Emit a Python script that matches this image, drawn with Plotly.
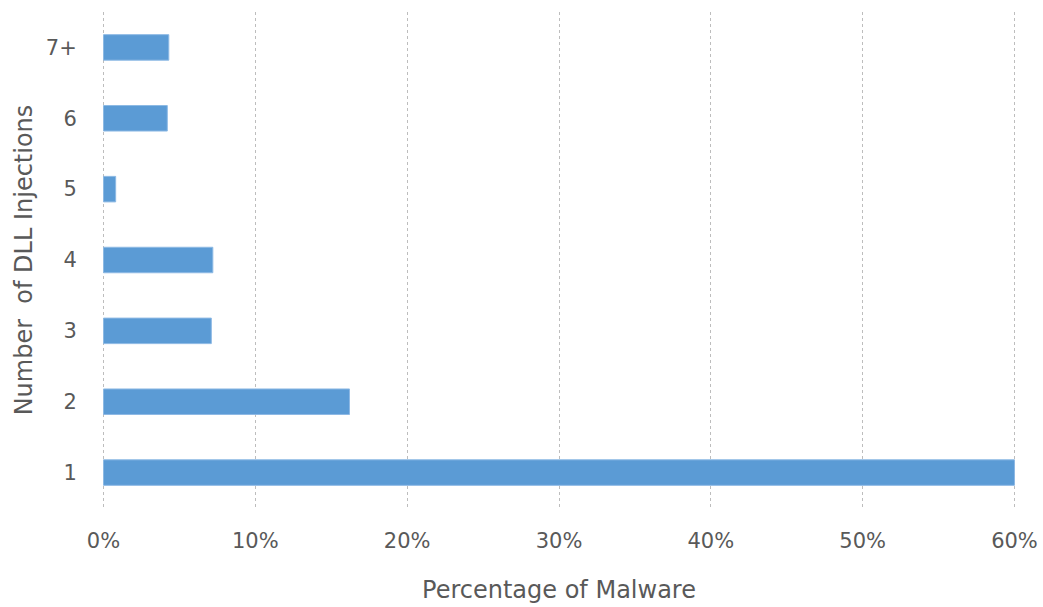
import plotly.graph_objects as go

# Share of malware samples by number of DLL injections
injections = ["1", "2", "3", "4", "5", "6", "7+"]
pct_malware = [60.0, 16.2, 7.1, 7.2, 0.8, 4.2, 4.3]

x_ticks = [0, 10, 20, 30, 40, 50, 60]
x_tick_text = ["0%", "10%", "20%", "30%", "40%", "50%", "60%"]

TEXT = "#595959"
FONT = "DejaVu Sans, Open Sans, sans-serif"

fig = go.Figure(
    go.Bar(
        x=pct_malware,
        y=injections,
        orientation="h",
        marker=dict(color="#5B9BD5", line=dict(color="#8DB9E4", width=1)),
        hoverinfo="x+y",
    )
)

fig.update_layout(
    width=1043,
    height=607,
    margin=dict(l=102, r=27, t=12, b=99),
    paper_bgcolor="white",
    plot_bgcolor="white",
    bargap=0.64,
    showlegend=False,
    font=dict(family=FONT, color=TEXT, size=21),
)

fig.update_xaxes(
    range=[-0.1, 60.1],
    tickvals=x_ticks,
    ticktext=x_tick_text,
    showgrid=True,
    gridcolor="#BDBDBD",
    gridwidth=1,
    griddash="3px,3px",
    zeroline=False,
    showline=False,
    ticks="outside",
    ticklen=14,
    tickcolor="rgba(0,0,0,0)",
    tickfont=dict(size=21, color=TEXT),
    title=dict(text="Percentage of Malware", font=dict(size=24, color=TEXT), standoff=28),
    automargin=False,
    fixedrange=True,
)

fig.update_yaxes(
    categoryorder="array",
    categoryarray=injections,
    showgrid=False,
    zeroline=False,
    showline=False,
    ticks="outside",
    ticklen=20,
    tickcolor="rgba(0,0,0,0)",
    tickfont=dict(size=21, color=TEXT),
    title=dict(text="Number\u00a0\u00a0of DLL Injections", font=dict(size=24, color=TEXT), standoff=6),
    automargin=False,
    fixedrange=True,
)

fig.write_html("out.html")
